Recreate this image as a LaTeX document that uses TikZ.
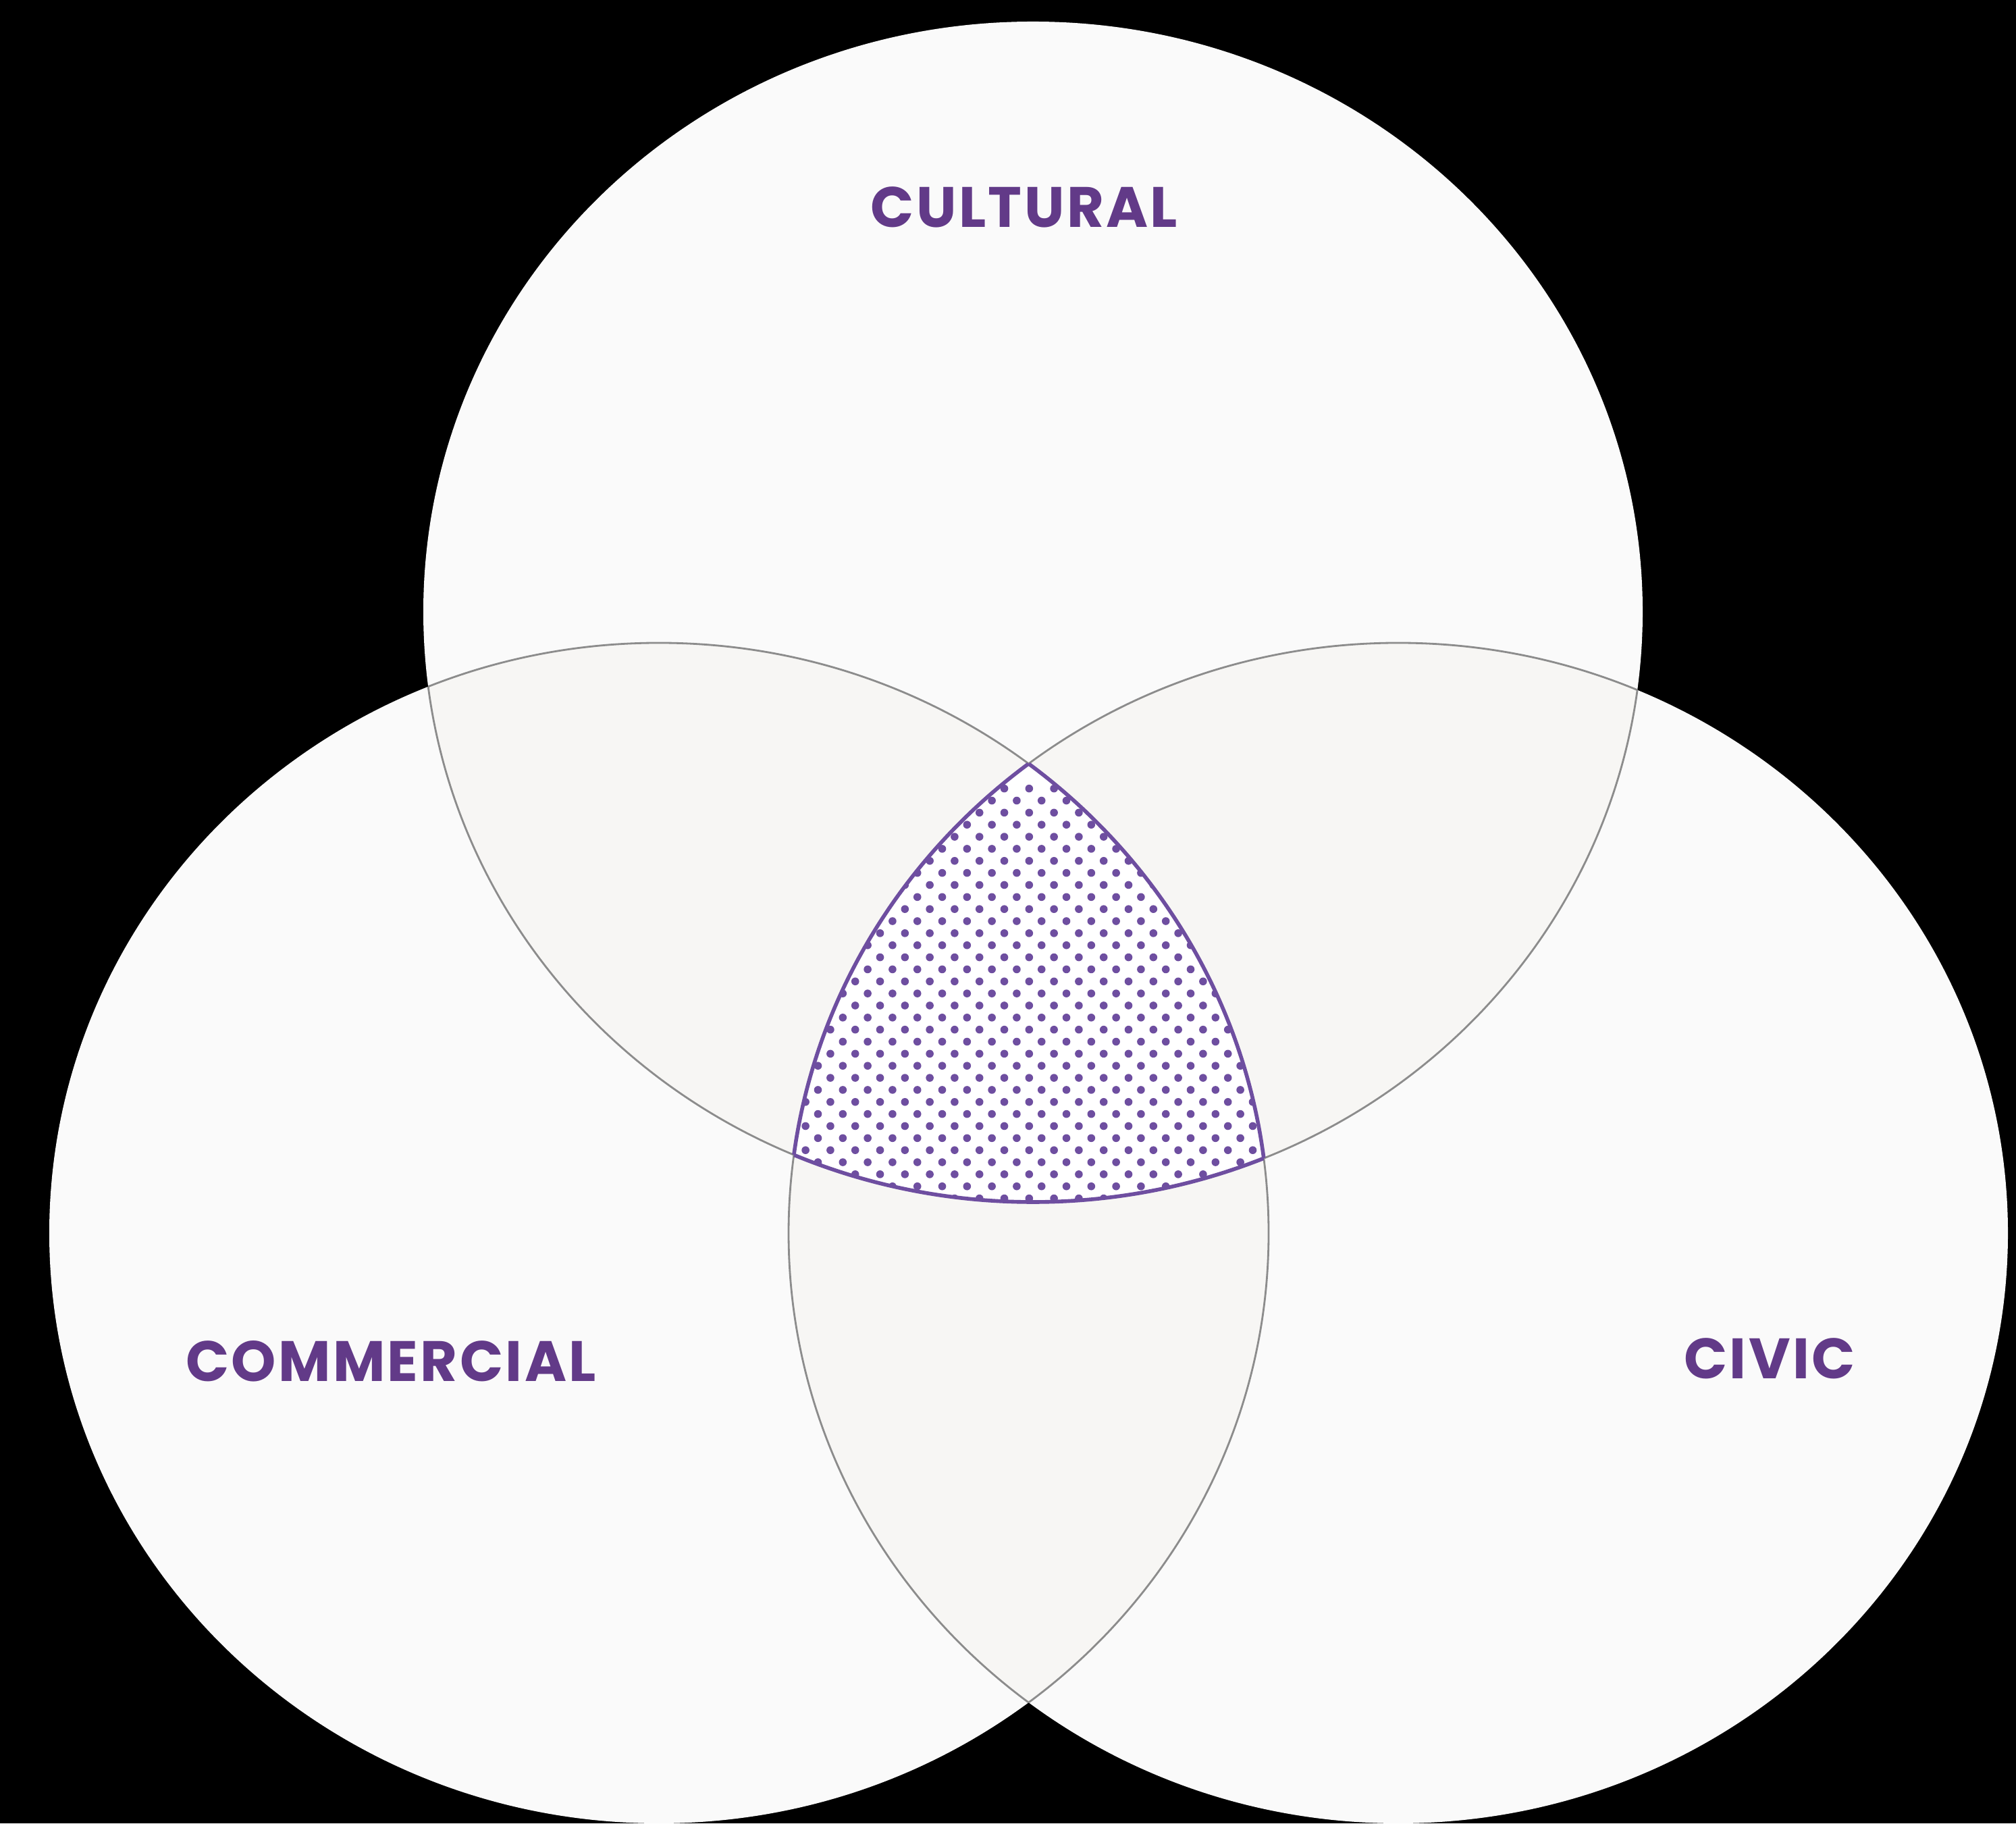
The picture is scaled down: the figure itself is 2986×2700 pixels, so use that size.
\documentclass[tikz,border=0pt]{standalone}
\usepackage{fontspec}
\setmainfont[LetterSpace=4]{Poppins}

\definecolor{setfill}{HTML}{FAFAFA}
\definecolor{setoverlap}{HTML}{F7F6F4}
\definecolor{setline}{HTML}{8C8C8C}
\definecolor{setpurple}{HTML}{623A88}
\definecolor{setdot}{HTML}{6E4EA0}

\begin{document}
\begin{tikzpicture}[x=0.1mm, y=0.1mm,
    setname/.style={text=setpurple, inner sep=0pt,
      font=\fontsize{24}{24}\selectfont\bfseries}]
        % pozadi
        \fill[black] (0,0) rectangle (2986,2700);
        \useasboundingbox (0,0) rectangle (2986,2700);

        % mnoziny
        \def\cul{(1530,1794) ellipse (903 and 874)}
        \def\com{(976,874) ellipse (903 and 874)}
        \def\civ{(2071,874) ellipse (903 and 874)}

        \fill[setfill] \cul;
        \fill[setfill] \com;
        \fill[setfill] \civ;

        % prekryvy
        \begin{scope}
            \clip \cul;
            \fill[setoverlap] \com;
            \fill[setoverlap] \civ;
        \end{scope}
        \begin{scope}
            \clip \com;
            \fill[setoverlap] \civ;
        \end{scope}

        % stred s teckami
        \begin{scope}
            \clip \cul; \clip \com; \clip \civ;
            \fill[white] (0,0) rectangle (2986,2700);
            \foreach \m in {0,...,37}
                \foreach \k in {-11,...,11}
                    \fill[setdot] ({1524.3+36.8*\k+18.4*mod(\m,2)},{1532.3-17.85*\m}) circle (5.8);
        \end{scope}

        % sede oblouky
        \begin{scope}
            \clip \cul;
            \draw[setline, line width=0.8pt] \com;
            \draw[setline, line width=0.8pt] \civ;
        \end{scope}
        \begin{scope}
            \clip \com;
            \draw[setline, line width=0.8pt] \cul;
            \draw[setline, line width=0.8pt] \civ;
        \end{scope}
        \begin{scope}
            \clip \civ;
            \draw[setline, line width=0.8pt] \cul;
            \draw[setline, line width=0.8pt] \com;
        \end{scope}

        % fialovy okraj
        \begin{scope}
            \clip \com; \clip \civ;
            \draw[setdot, line width=1.6pt] \cul;
        \end{scope}
        \begin{scope}
            \clip \cul; \clip \civ;
            \draw[setdot, line width=1.6pt] \com;
        \end{scope}
        \begin{scope}
            \clip \cul; \clip \com;
            \draw[setdot, line width=1.6pt] \civ;
        \end{scope}

        \node[setname] (cultural) at (1517,2393) {CULTURAL};
        \node[setname] (commercial) at (579,684) {COMMERCIAL};
        \node[setname] (civic) at (2621,688) {CIVIC};

    \end{tikzpicture}
\end{document}
